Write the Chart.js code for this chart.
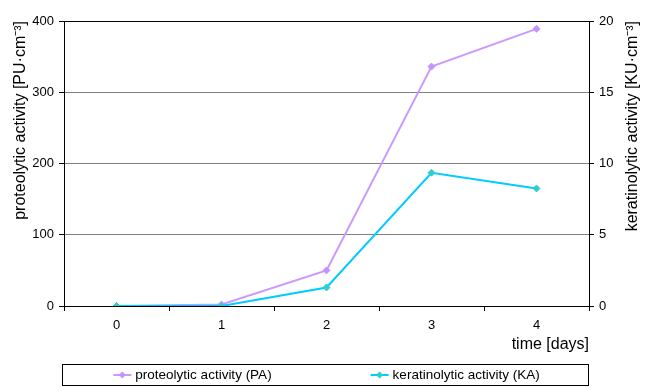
<!DOCTYPE html>
<html>
<head>
<meta charset="utf-8">
<script src="https://cdn.jsdelivr.net/npm/chart.js@4"></script>
<style>
  html, body { margin: 0; padding: 0; background: #fff; }
  #wrap { width: 650px; height: 387px; }
</style>
</head>
<body>
<div id="wrap"><canvas id="activity-chart"></canvas></div>
<script>
// Data
const days = ['0', '1', '2', '3', '4'];
const proteolytic = [0, 2, 50, 336, 389];     // PU·cm⁻³ (left axis)
const keratinolytic = [0, 0, 1.3, 9.35, 8.25]; // KU·cm⁻³ (right axis)
const leftTicks = [0, 100, 200, 300, 400];
const rightTicks = [0, 5, 10, 15, 20];
const rightTitle = 'keratinolytic activity [KU·cm⁻³]';

const FONT = '"Liberation Sans", Arial, sans-serif';

// Right axis title reads bottom-to-top like the left one, so draw it by hand
const rightAxisTitle = {
    id: 'rightAxisTitle',
    afterDraw(chart) {
        const ctx = chart.ctx;
        const scale = chart.scales.y1;
        ctx.save();
        ctx.font = '16px ' + FONT;
        ctx.fillStyle = '#000';
        ctx.textAlign = 'right';
        ctx.textBaseline = 'middle';
        ctx.translate(scale.right - 13.6, chart.chartArea.top);
        ctx.rotate(-Math.PI / 2);
        ctx.fillText(rightTitle, 0, 0);
        ctx.restore();
    }
};

// Own legend: framed box under the plot, line + diamond samples
const boxedLegend = {
    id: 'boxedLegend',
    afterDraw(chart) {
        const ctx = chart.ctx;
        const area = chart.chartArea;
        const left = Math.round(area.left) - 1.5;
        const right = Math.round(area.right) - 0.5;
        const top = chart.height - 22.5;
        const bottom = chart.height - 1.5;

        ctx.save();
        ctx.strokeStyle = '#000';
        ctx.lineWidth = 1;
        ctx.strokeRect(left, top, right - left, bottom - top);

        ctx.font = '13.5px ' + FONT;
        ctx.textBaseline = 'middle';
        ctx.fillStyle = '#000';

        const sampleW = 18;
        const textGap = 4;
        const itemGap = 99;
        const items = chart.data.datasets.map(ds => ({
            ds: ds,
            width: sampleW + textGap + ctx.measureText(ds.label).width
        }));
        const total = items.reduce((s, it) => s + it.width, 0) + itemGap * (items.length - 1);
        let x = (area.left + area.right) / 2 - total / 2;
        const y = (top + bottom) / 2;

        items.forEach(it => {
            ctx.strokeStyle = it.ds.borderColor;
            ctx.lineWidth = 2;
            ctx.beginPath();
            ctx.moveTo(x, y);
            ctx.lineTo(x + sampleW, y);
            ctx.stroke();
            // diamond
            const cx = x + sampleW / 2, r = 3.5;
            ctx.fillStyle = it.ds.pointBackgroundColor;
            ctx.beginPath();
            ctx.moveTo(cx, y - r);
            ctx.lineTo(cx + r, y);
            ctx.lineTo(cx, y + r);
            ctx.lineTo(cx - r, y);
            ctx.closePath();
            ctx.fill();
            ctx.fillStyle = '#000';
            ctx.fillText(it.ds.label, x + sampleW + textGap, y + 0.5);
            x += it.width + itemGap;
        });
        ctx.restore();
    }
};

const ctx = document.getElementById('activity-chart').getContext('2d');
new Chart(ctx, {
    type: 'line',
    data: {
        labels: days,
        datasets: [
            {
                label: 'proteolytic activity (PA)',
                data: proteolytic,
                yAxisID: 'y',
                borderColor: '#CC99FF',
                backgroundColor: '#CC99FF',
                pointBackgroundColor: '#C493FF',
                pointBorderColor: '#C493FF',
                borderWidth: 2,
                pointStyle: 'rectRot',
                pointRadius: 3.5,
                pointBorderWidth: 1,
                tension: 0,
                order: 1
            },
            {
                label: 'keratinolytic activity (KA)',
                data: keratinolytic,
                yAxisID: 'y1',
                borderColor: '#00CCFF',
                backgroundColor: '#00CCFF',
                pointBackgroundColor: '#33CCCC',
                pointBorderColor: '#33CCCC',
                borderWidth: 2,
                pointStyle: 'rectRot',
                pointRadius: 3.5,
                pointBorderWidth: 1,
                tension: 0,
                order: 0
            }
        ]
    },
    options: {
        responsive: true,
        maintainAspectRatio: false,
        animation: false,
        layout: {
            padding: { top: 21, left: 7, right: 4, bottom: 29 }
        },
        plugins: {
            legend: { display: false },
            tooltip: { enabled: false }
        },
        scales: {
            x: {
                offset: true,
                afterFit: function(scale) { scale.height = 52; },
                grid: {
                    offset: true,
                    drawOnChartArea: false,
                    tickLength: 5,
                    tickColor: '#000'
                },
                border: { color: '#000', width: 1 },
                ticks: {
                    color: '#000',
                    padding: 7,
                    maxRotation: 0,
                    font: { family: FONT, size: 13 }
                },
                title: {
                    display: true,
                    text: 'time [days]',
                    align: 'end',
                    color: '#000',
                    padding: { top: 0, bottom: 4 },
                    font: { family: FONT, size: 16 }
                }
            },
            y: {
                position: 'left',
                min: 0,
                max: 400,
                afterFit: function(scale) { scale.width = 57; },
                afterBuildTicks: function(scale) {
                    scale.ticks = leftTicks.map(v => ({ value: v }));
                },
                grid: {
                    color: function(c) {
                        return c.tick && c.tick.value === 400 ? '#000' : '#808080';
                    },
                    lineWidth: 1,
                    tickLength: 5,
                    tickColor: '#000'
                },
                border: { color: '#000', width: 1 },
                ticks: {
                    color: '#000',
                    padding: 5,
                    font: { family: FONT, size: 13 }
                },
                title: {
                    display: true,
                    text: 'proteolytic activity [PU·cm⁻³]',
                    align: 'end',
                    color: '#000',
                    padding: { top: 4, bottom: 0 },
                    font: { family: FONT, size: 16 }
                }
            },
            y1: {
                position: 'right',
                min: 0,
                max: 20,
                afterFit: function(scale) { scale.width = 57; },
                afterBuildTicks: function(scale) {
                    scale.ticks = rightTicks.map(v => ({ value: v }));
                },
                grid: {
                    drawOnChartArea: false,
                    tickLength: 5,
                    tickColor: '#000'
                },
                border: { color: '#000', width: 1 },
                ticks: {
                    color: '#000',
                    padding: 5,
                    font: { family: FONT, size: 13 }
                },
                title: { display: false }
            }
        }
    },
    plugins: [rightAxisTitle, boxedLegend]
});
</script>
</body>
</html>
